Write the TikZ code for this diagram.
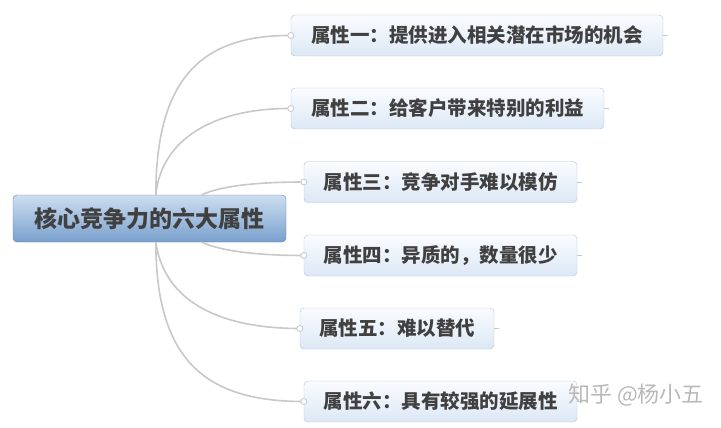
\documentclass[tikz,border=0pt]{standalone}
\usepackage{fontspec}
\newfontfamily\cjk{Noto Sans CJK SC}
\usetikzlibrary{shadings}
\definecolor{rootblue}{RGB}{120,160,205}
\definecolor{rootlight}{RGB}{205,222,240}
\definecolor{leafline}{RGB}{175,195,215}
\definecolor{leaftop}{RGB}{250,252,255}
\definecolor{leafbot}{RGB}{220,232,245}
\definecolor{branch}{RGB}{200,200,200}
\tikzset{
  rootbox/.style={rectangle, rounded corners=4pt, draw=rootblue!80!black, top color=rootlight, bottom color=rootblue,
    minimum width=273pt, minimum height=47pt, font=\cjk\bfseries\fontsize{23pt}{25pt}\selectfont, text=black!75},
  leafbox/.style={rectangle, rounded corners=4pt, draw=leafline, top color=leaftop, bottom color=leafbot,
    minimum height=41pt, font=\cjk\bfseries\fontsize{19.5pt}{21pt}\selectfont, text=black!75},
  branchline/.style={draw=branch, line width=1.6pt},
  knob/.style={circle, draw=branch, fill=white, line width=0.8pt, inner sep=0pt, minimum size=6pt}
}
\begin{document}
\begin{tikzpicture}[x=1pt, y=-1pt]
    \useasboundingbox (0,0) rectangle (721,428);
    % centrale
    \node[rootbox] (core) at (149.5,218.5) {核心竞争力的六大属性};

    % attributi
    \node[leafbox, minimum width=372pt] (a1) at (477,35.5) {属性一：提供进入相关潜在市场的机会};
    \node[leafbox, minimum width=313pt] (a2) at (447.5,108.5) {属性二：给客户带来特别的利益};
    \node[leafbox, minimum width=273pt] (a3) at (440.5,182) {属性三：竞争对手难以模仿};
    \node[leafbox, minimum width=273pt] (a4) at (440.5,255.5) {属性四：异质的，数量很少};
    \node[leafbox, minimum width=194pt] (a5) at (397,328.5) {属性五：难以替代};
    \node[leafbox, minimum width=273pt] (a6) at (440.5,401.5) {属性六：具有较强的延展性};

    % rami
    \coordinate (up1) at ([xshift=143pt]core.north west);
    \coordinate (up2) at ([xshift=189pt]core.north west);
    \coordinate (dn1) at ([xshift=143pt]core.south west);
    \coordinate (dn2) at ([xshift=189pt]core.south west);
    \draw[branchline] (up1) .. controls (156,80) and (200,35) .. (a1.west);
    \draw[branchline] (up1) .. controls (162,135) and (220,108) .. (a2.west);
    \draw[branchline] (up2) .. controls (225,184) and (270,182) .. (a3.west);
    \draw[branchline] (dn2) .. controls (225,253) and (270,255.5) .. (a4.west);
    \draw[branchline] (dn1) .. controls (165,305) and (225,328.5) .. (a5.west);
    \draw[branchline] (dn1) .. controls (156,360) and (205,401.5) .. (a6.west);

    % nodi e code
    \foreach \a in {a1,a2,a3,a4,a5,a6} {
        \node[knob] at (\a.west) {};
        \draw[branch, line width=0.8pt] (\a.east) -- +(5,0);
    }

    \node[font=\cjk\fontsize{22pt}{24pt}\selectfont, text=gray!55] (mark) at (636,395) {知乎 @杨小五};
\end{tikzpicture}
\end{document}
